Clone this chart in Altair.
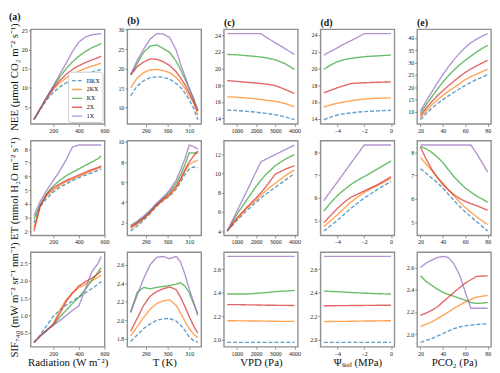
import altair as alt
import pandas as pd

SERIF = "Liberation Serif"
MODELS = ["ΠKX", "2KX", "KX", "2X", "1X"]
COLORS = ["#1f77b4", "#ff7f0e", "#2ca02c", "#d62728", "#9467bd"]
DASHES = [[4, 2], [1, 0], [1, 0], [1, 0], [1, 0]]

# ---------------- x grids ----------------
RAD = [50, 100, 150, 200, 250, 300, 350, 400, 450, 500, 550, 575]
TEMP = [283, 286, 289, 292, 295, 298, 301, 304, 306, 308, 310, 312, 314]
VPD = [500, 1000, 1500, 2000, 2250, 2500, 3000, 3500, 4000]
PSI = [-5, -4.5, -4, -3.5, -3, -2.5, -2, -1.5, -1, -0.5, 0]
PCO2 = [20, 25, 30, 35, 40, 45, 50, 55, 60, 65, 70, 75, 80]

# ---------------- series (order: ΠKX, 2KX, KX, 2X, 1X) ----------------
NEE_RAD = [
    [1.7, 4.4, 6.9, 8.8, 10.2, 11.3, 12.2, 12.9, 13.6, 14.1, 14.6, 14.9],
    [1.8, 4.6, 7.3, 9.6, 11.3, 12.6, 13.6, 14.4, 15.1, 15.7, 16.2, 16.5],
    [1.8, 4.7, 7.6, 10.3, 12.8, 15.0, 16.8, 18.3, 19.5, 20.5, 21.2, 21.6],
    [1.8, 4.6, 7.4, 9.9, 11.9, 13.5, 14.8, 15.8, 16.6, 17.3, 17.9, 18.3],
    [1.8, 4.7, 7.6, 10.5, 13.5, 16.4, 19.5, 22.0, 23.3, 23.9, 24.1, 24.2],
]
ET_RAD = [
    [2.6, 3.8, 4.4, 4.85, 5.2, 5.45, 5.7, 5.9, 6.1, 6.25, 6.45, 6.55],
    [2.3, 3.9, 4.6, 5.0, 5.35, 5.6, 5.8, 6.0, 6.2, 6.4, 6.6, 6.7],
    [2.9, 3.95, 4.75, 5.3, 5.7, 6.05, 6.3, 6.55, 6.8, 7.05, 7.3, 7.5],
    [2.0, 3.9, 4.7, 5.15, 5.45, 5.7, 5.9, 6.1, 6.3, 6.5, 6.65, 6.75],
    [3.15, 4.2, 5.0, 5.7, 6.4, 7.2, 8.15, 8.3, 8.3, 8.3, 8.3, 8.3],
]
SIF_RAD = [
    [0.23, 0.45, 0.72, 0.98, 1.15, 1.3, 1.42, 1.53, 1.65, 1.77, 1.9, 1.98],
    [0.23, 0.42, 0.58, 0.75, 1.15, 1.45, 1.65, 1.8, 1.9, 2.0, 2.1, 2.16],
    [0.23, 0.42, 0.58, 0.73, 0.95, 1.15, 1.35, 1.53, 1.75, 2.0, 2.25, 2.38],
    [0.23, 0.42, 0.58, 0.75, 1.05, 1.4, 1.65, 1.85, 1.97, 2.07, 2.2, 2.28],
    [0.23, 0.42, 0.58, 0.72, 0.85, 1.0, 1.15, 1.28, 1.75, 2.25, 2.5, 2.7],
]

NEE_TEMP = [
    [13.1, 15.5, 16.9, 17.7, 17.9, 17.8, 17.3, 16.2, 15.2, 13.8, 12.0, 9.9, 6.9],
    [15.1, 17.6, 19.0, 19.7, 19.8, 19.5, 19.0, 17.7, 16.5, 15.0, 13.0, 11.2, 8.1],
    [18.4, 21.3, 24.2, 25.8, 26.1, 25.2, 24.2, 21.9, 19.8, 17.4, 14.9, 12.4, 9.3],
    [18.4, 20.5, 21.7, 22.5, 22.4, 21.8, 20.8, 19.2, 17.7, 15.9, 13.8, 11.6, 9.1],
    [18.4, 22.1, 25.0, 27.6, 29.0, 28.9, 28.0, 24.8, 21.2, 18.2, 15.0, 12.2, 9.3],
]
ET_TEMP = [
    [1.12, 1.6, 2.2, 2.85, 3.6, 4.15, 4.6, 5.3, 6.0, 6.75, 7.3, 7.5, 7.45],
    [1.36, 1.8, 2.35, 2.95, 3.65, 4.2, 4.65, 5.45, 6.2, 7.05, 7.75, 8.0, 8.2],
    [1.6, 2.0, 2.5, 3.1, 3.8, 4.4, 5.0, 5.9, 6.7, 7.7, 8.9, 8.9, 8.9],
    [1.5, 1.9, 2.4, 3.0, 3.7, 4.3, 4.8, 5.6, 6.3, 7.2, 8.0, 8.6, 9.1],
    [1.68, 2.1, 2.6, 3.2, 3.9, 4.5, 5.2, 6.2, 7.2, 8.3, 9.7, 9.55, 9.3],
]
SIF_TEMP = [
    [1.77, 1.84, 1.91, 1.96, 2.0, 2.015, 2.02, 1.99, 1.95, 1.89, 1.82, 1.78, 1.76],
    [1.83, 1.93, 2.03, 2.12, 2.18, 2.21, 2.22, 2.16, 2.08, 1.99, 1.91, 1.85, 1.81],
    [2.09, 2.3, 2.355, 2.34, 2.355, 2.365, 2.375, 2.39, 2.405, 2.37, 2.3, 2.18, 2.07],
    [1.88, 2.02, 2.16, 2.26, 2.31, 2.34, 2.36, 2.33, 2.25, 2.15, 2.04, 1.94, 1.86],
    [2.08, 2.27, 2.45, 2.6, 2.68, 2.69, 2.665, 2.69, 2.63, 2.5, 2.34, 2.2, 2.05],
]

NEE_VPD = [
    [15.0, 14.95, 14.85, 14.75, 14.68, 14.6, 14.45, 14.2, 13.85],
    [16.6, 16.55, 16.45, 16.35, 16.28, 16.2, 16.05, 15.8, 15.4],
    [21.7, 21.65, 21.55, 21.45, 21.38, 21.3, 21.05, 20.6, 19.9],
    [18.55, 18.45, 18.35, 18.25, 18.2, 18.15, 17.95, 17.5, 17.0],
    [24.2, 24.2, 24.2, 24.2, 24.2, 23.8, 23.1, 22.4, 21.7],
]
ET_VPD = [
    [4.0, 5.1, 6.1, 7.0, 7.45, 7.85, 8.57, 9.3, 10.0],
    [4.0, 5.23, 6.33, 7.23, 7.75, 8.2, 9.0, 9.75, 10.4],
    [4.0, 5.75, 7.2, 8.67, 9.3, 9.9, 10.83, 11.5, 12.0],
    [4.0, 5.35, 6.45, 7.45, 8.0, 8.6, 9.95, 10.45, 10.85],
    [4.0, 6.06, 8.1, 10.2, 11.23, 11.5, 12.0, 12.5, 13.0],
]
SIF_VPD = [
    [1.978, 1.978, 1.978, 1.978, 1.978, 1.978, 1.978, 1.978, 1.978],
    [2.163, 2.162, 2.161, 2.16, 2.16, 2.159, 2.158, 2.157, 2.157],
    [2.39, 2.39, 2.39, 2.395, 2.398, 2.402, 2.41, 2.415, 2.42],
    [2.30, 2.30, 2.298, 2.297, 2.296, 2.295, 2.294, 2.293, 2.292],
    [2.71, 2.71, 2.71, 2.71, 2.71, 2.71, 2.71, 2.71, 2.71],
]

NEE_PSI = [
    [13.9, 14.2, 14.45, 14.6, 14.7, 14.8, 14.85, 14.9, 14.95, 14.98, 15.0],
    [15.4, 15.65, 15.85, 16.0, 16.15, 16.25, 16.35, 16.4, 16.45, 16.48, 16.5],
    [19.9, 20.4, 20.8, 21.05, 21.2, 21.3, 21.4, 21.45, 21.5, 21.55, 21.6],
    [17.1, 17.4, 17.7, 17.95, 18.2, 18.25, 18.3, 18.32, 18.35, 18.38, 18.4],
    [21.6, 22.03, 22.45, 22.9, 23.3, 23.7, 24.15, 24.15, 24.15, 24.15, 24.15],
]
ET_PSI = [
    [4.54, 4.77, 5.0, 5.27, 5.53, 5.76, 5.99, 6.18, 6.37, 6.55, 6.72],
    [4.74, 4.99, 5.25, 5.53, 5.81, 6.03, 6.23, 6.4, 6.55, 6.7, 6.86],
    [5.42, 5.78, 6.09, 6.35, 6.58, 6.77, 6.93, 7.1, 7.27, 7.45, 7.62],
    [4.9, 5.22, 5.53, 5.8, 6.02, 6.16, 6.3, 6.44, 6.58, 6.75, 6.93],
    [5.88, 6.29, 6.69, 7.1, 7.51, 7.91, 8.32, 8.32, 8.32, 8.32, 8.32],
]
SIF_PSI = [
    [1.978, 1.978, 1.978, 1.978, 1.978, 1.978, 1.978, 1.978, 1.978, 1.978, 1.978],
    [2.155, 2.156, 2.157, 2.157, 2.158, 2.159, 2.16, 2.16, 2.161, 2.162, 2.163],
    [2.415, 2.412, 2.41, 2.406, 2.403, 2.4, 2.397, 2.395, 2.393, 2.391, 2.39],
    [2.29, 2.29, 2.291, 2.291, 2.292, 2.292, 2.293, 2.293, 2.294, 2.294, 2.295],
    [2.71, 2.71, 2.71, 2.71, 2.71, 2.71, 2.71, 2.71, 2.71, 2.71, 2.71],
]

NEE_PCO2 = [
    [6.9, 9.3, 11.5, 13.3, 15.0, 16.5, 18.0, 19.4, 20.8, 22.0, 23.1, 24.1, 25.1],
    [7.8, 10.4, 12.8, 14.8, 16.7, 18.4, 19.9, 21.5, 23.1, 24.3, 25.3, 26.3, 27.3],
    [9.5, 12.9, 16.0, 19.2, 22.1, 24.7, 27.0, 29.1, 30.9, 32.6, 34.2, 35.7, 37.0],
    [8.6, 11.5, 14.1, 16.5, 18.6, 20.6, 22.5, 24.3, 26.0, 27.4, 28.6, 29.8, 30.9],
    [10.4, 14.3, 18.0, 21.7, 25.1, 28.3, 31.2, 33.8, 36.1, 38.0, 39.4, 40.7, 41.7],
]
ET_PCO2 = [
    [7.29, 7.1, 6.9, 6.7, 6.47, 6.2, 5.93, 5.68, 5.45, 5.24, 5.04, 4.83, 4.63],
    [7.77, 7.5, 7.22, 6.95, 6.68, 6.4, 6.13, 5.87, 5.63, 5.43, 5.24, 5.07, 4.9],
    [8.25, 8.15, 8.0, 7.8, 7.56, 7.25, 6.95, 6.7, 6.47, 6.3, 6.13, 6.0, 5.86],
    [8.22, 7.72, 7.28, 6.92, 6.62, 6.38, 6.18, 6.02, 5.9, 5.8, 5.72, 5.62, 5.52],
    [8.31, 8.31, 8.31, 8.31, 8.31, 8.31, 8.31, 8.31, 8.31, 8.31, 7.96, 7.56, 7.15],
]
SIF_PCO2 = [
    [1.926, 1.944, 1.96, 1.983, 2.006, 2.03, 2.05, 2.065, 2.075, 2.082, 2.087, 2.091, 2.095],
    [2.069, 2.09, 2.11, 2.14, 2.17, 2.2, 2.234, 2.262, 2.29, 2.313, 2.334, 2.342, 2.349],
    [2.526, 2.475, 2.44, 2.405, 2.377, 2.357, 2.34, 2.323, 2.306, 2.285, 2.277, 2.28, 2.286],
    [2.17, 2.19, 2.215, 2.245, 2.29, 2.333, 2.377, 2.42, 2.46, 2.49, 2.52, 2.522, 2.526],
    [2.6, 2.64, 2.665, 2.69, 2.70, 2.69, 2.63, 2.53, 2.38, 2.234, 2.234, 2.234, 2.234],
]

# ---------------- tick labels ----------------
XT_RAD = [200, 400, 600]
XT_TEMP = [290, 300, 310]
XT_VPD = [1000, 2000, 3000, 4000]
XT_PSI = [-4, -2, 0]
XT_PCO2 = [20, 40, 60, 80]

YT_NEE = [[5, 10, 15, 20, 25], [10, 15, 20, 25, 30], [14, 16, 18, 20, 22, 24],
          [14, 16, 18, 20, 22, 24], [5, 10, 15, 20, 25, 30, 35, 40]]
YT_ET = [[2, 3, 4, 5, 6, 7, 8], [2, 4, 6, 8, 10], [4, 6, 8, 10, 12], [5, 6, 7, 8], [5, 6, 7, 8]]
YT_SIF = [[0.5, 1.0, 1.5, 2.0, 2.5], [1.8, 2.0, 2.2, 2.4, 2.6], [2.0, 2.2, 2.4, 2.6],
          [2.0, 2.2, 2.4, 2.6], [2.0, 2.2, 2.4, 2.6]]

PANEL_TITLES = ["(a)", "(b)", "(c)", "(d)", "(e)"]
ROW_TITLES = ["NEE (μmol CO₂ m⁻² s⁻¹)", "ET (mmol H₂O m⁻² s⁻¹)", "SIF₇₄₀ (mW m⁻² sr⁻¹ nm⁻¹)"]
COL_TITLES = ["Radiation (W m⁻²)", "T (K)", "VPD (Pa)", "Ψₛₒᵢₗ (MPa)", "PCO₂ (Pa)"]

W, H = 75, 96


def padded(vals):
    lo, hi = min(vals), max(vals)
    m = (hi - lo) * 0.05
    return [lo - m, hi + m]


def panel(xs, series, xticks, yticks, yfmt, xtitle=None, ytitle=None,
          title=None, title_frame="group", legend=False):
    rows = []
    for m, ys in zip(MODELS, series):
        for xv, yv in zip(xs, ys):
            rows.append({"x": xv, "y": yv, "model": m})
    df = pd.DataFrame(rows)
    ally = [v for s in series for v in s]
    if legend:
        leg = alt.Legend(orient="bottom-right", title=None, symbolType="stroke",
                         symbolSize=110, symbolStrokeWidth=1.4, labelFontSize=6,
                         labelFont=SERIF, fillColor="white", strokeColor="#cccccc",
                         padding=3, offset=2, rowPadding=0, cornerRadius=2,
                         labelOffset=4)
    else:
        leg = None
    xaxis = alt.Axis(values=xticks, format="d", title=xtitle)
    yaxis = alt.Axis(values=yticks, format=yfmt, title=ytitle)
    ch = alt.Chart(df).mark_line(strokeWidth=1.4, opacity=0.7).encode(
        x=alt.X("x:Q", scale=alt.Scale(domain=padded(xs), nice=False, zero=False), axis=xaxis),
        y=alt.Y("y:Q", scale=alt.Scale(domain=padded(ally), nice=False, zero=False), axis=yaxis),
        color=alt.Color("model:N", scale=alt.Scale(domain=MODELS, range=COLORS), legend=leg),
        strokeDash=alt.StrokeDash("model:N", scale=alt.Scale(domain=MODELS, range=DASHES), legend=leg),
    ).properties(width=W, height=H)
    if title is not None:
        ch = ch.properties(title=alt.TitleParams(title, anchor="start", frame=title_frame))
    return ch


XS = [RAD, TEMP, VPD, PSI, PCO2]
XTS = [XT_RAD, XT_TEMP, XT_VPD, XT_PSI, XT_PCO2]
DATA = [
    [NEE_RAD, NEE_TEMP, NEE_VPD, NEE_PSI, NEE_PCO2],
    [ET_RAD, ET_TEMP, ET_VPD, ET_PSI, ET_PCO2],
    [SIF_RAD, SIF_TEMP, SIF_VPD, SIF_PSI, SIF_PCO2],
]
YTS = [YT_NEE, YT_ET, YT_SIF]
YFMT = ["d", "d", ".1f"]

charts = []
for r in range(3):
    for c in range(5):
        charts.append(panel(
            XS[c], DATA[r][c], XTS[c], YTS[r][c], YFMT[r],
            xtitle=COL_TITLES[c] if r == 2 else None,
            ytitle=ROW_TITLES[r] if c == 0 else None,
            title=PANEL_TITLES[c] if r == 0 else None,
            title_frame="bounds" if c == 0 else "group",
            legend=(r == 0 and c == 0),
        ))

chart = (
    alt.concat(*charts, columns=5, spacing={"row": 17, "column": 23}, bounds="flush")
    .resolve_scale(color="independent", strokeDash="independent")
    .resolve_legend(color="independent", strokeDash="independent")
    .properties(padding={"left": 0, "top": 0, "right": 0, "bottom": 0},
                background="white")
    .configure_axis(labelFont=SERIF, titleFont=SERIF, labelFontSize=6,
                    titleFontSize=11, titleFontWeight="normal", tickSize=2.5,
                    tickColor="#777777", tickWidth=0.8, domain=False, grid=False,
                    labelPadding=1, labelColor="#222222", titleColor="#111111",
                    labelFlush=False, labelOverlap=False)
    .configure_axisY(minExtent=10, maxExtent=10, titlePadding=1)
    .configure_axisX(titlePadding=1)
    .configure_view(stroke="#909090", strokeWidth=1.4)
    .configure_title(font=SERIF, fontSize=10, fontWeight="bold", offset=1, color="#111111")
)

chart.save("out.html", embed_options={"renderer": "svg", "actions": False})
